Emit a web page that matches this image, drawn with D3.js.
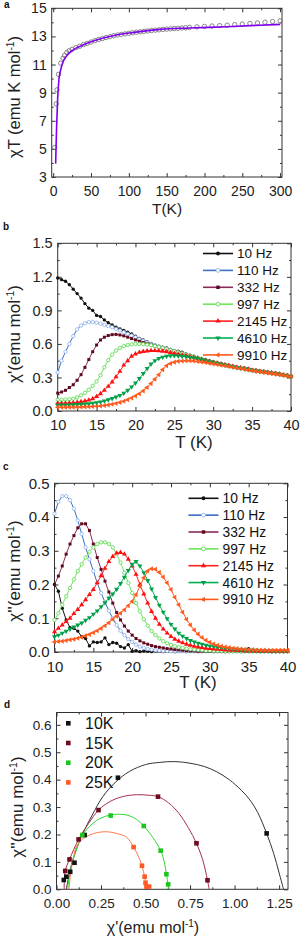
<!DOCTYPE html>
<html>
<head>
<meta charset="utf-8">
<script src="https://cdnjs.cloudflare.com/ajax/libs/d3/7.8.5/d3.min.js"></script>
<style>
  body { margin: 0; background: #fff; }
  svg { display: block; font-family: "Liberation Sans", Arial, sans-serif; }
</style>
</head>
<body>
<div id="chart"></div>
<script>
// ---------- panel a : chi T vs T ----------
var tempsA = [2,4,5,7,10,13,15,18,21,25,30,35,40,45,50,55,60,65,70,75,80,85,90,95,100,105,110,115,120,125,130,135,140,145,150,155,160,165,170,175,180,190,200,210,220,230,240,250,260,270,280,290,300];
var chiTA = [5.1,8.2,9.2,10.3,11.1,11.45,11.65,11.85,11.98,12.08,12.2,12.3,12.42,12.5,12.6,12.7,12.78,12.85,12.92,12.98,13.05,13.1,13.14,13.18,13.22,13.26,13.3,13.33,13.36,13.39,13.42,13.45,13.47,13.5,13.52,13.54,13.56,13.58,13.6,13.62,13.64,13.68,13.71,13.74,13.77,13.8,13.84,13.88,13.92,13.96,14.01,14.06,14.11];
var fitTempsA = [3.2,4.5,5.8,7.5,9.8,13,17.5,26,40,57,79,107,141,180,230,300];
var fitChiTA = [3.95,6.6,8.5,9.9,10.6,11.2,11.6,12.03,12.4,12.74,13.05,13.29,13.5,13.6,13.69,13.86];

// ---------- panels b, c : ac susceptibility ----------
var tempsAC = [10,10.5,11,11.5,12,12.5,13,13.5,14,14.5,15,15.5,16,16.5,17,17.5,18,18.5,19,19.5,20,20.5,21,21.5,22,22.5,23,23.5,24,24.5,25,25.5,26,26.5,27,27.5,28,28.5,29,29.5,30,30.5,31,31.5,32,32.5,33,33.5,34,34.5,35,35.5,36,36.5,37,37.5,38,38.5,39,39.5,40];
var freqLabels = ["10 Hz", "110 Hz", "332 Hz", "997 Hz", "2145 Hz", "4610 Hz", "9910 Hz"];

// chi' (in-phase)
var chiRe10 = [1.19,1.175,1.16,1.13,1.09,1.05,1.01,0.96,0.92,0.90,
  0.855,0.845,0.815,0.79,0.77,0.75,0.735,0.72,0.705,0.69,
  0.67,0.65,0.635,0.62,0.605,0.59,0.58,0.57,0.565,0.55,
  0.54,0.535,0.525,0.51,0.50,0.49,0.48,0.47,0.46,0.45,
  0.44,0.43,0.425,0.415,0.41,0.40,0.395,0.39,0.385,0.38,
  0.37,0.365,0.36,0.355,0.35,0.345,0.34,0.335,0.325,0.32,
  0.31];
var chiRe110 = [0.345,0.45,0.53,0.60,0.67,0.73,0.765,0.785,0.795,0.797,
  0.79,0.78,0.77,0.76,0.75,0.735,0.72,0.705,0.69,0.675,
  0.66,0.643,0.628,0.614,0.60,0.588,0.577,0.566,0.555,0.545,
  0.535,0.525,0.515,0.505,0.495,0.485,0.475,0.465,0.455,0.445,
  0.437,0.429,0.421,0.413,0.405,0.398,0.391,0.385,0.379,0.372,
  0.366,0.36,0.355,0.35,0.345,0.34,0.335,0.33,0.323,0.317,
  0.31];
var chiRe332 = [0.16,0.17,0.185,0.21,0.235,0.275,0.325,0.39,0.46,0.53,
  0.59,0.635,0.66,0.675,0.683,0.685,0.68,0.672,0.66,0.648,
  0.636,0.624,0.612,0.601,0.591,0.581,0.571,0.561,0.551,0.542,
  0.533,0.524,0.515,0.505,0.495,0.485,0.475,0.465,0.455,0.445,
  0.437,0.429,0.421,0.413,0.405,0.398,0.391,0.385,0.379,0.372,
  0.366,0.36,0.355,0.35,0.345,0.34,0.335,0.33,0.323,0.317,
  0.31];
var chiRe997 = [0.10,0.10,0.102,0.105,0.11,0.122,0.14,0.162,0.19,0.225,
  0.265,0.32,0.39,0.455,0.505,0.54,0.565,0.58,0.59,0.597,
  0.60,0.60,0.598,0.594,0.588,0.58,0.572,0.564,0.555,0.545,
  0.535,0.525,0.515,0.505,0.495,0.485,0.475,0.465,0.455,0.445,
  0.437,0.429,0.421,0.413,0.405,0.398,0.391,0.385,0.379,0.372,
  0.366,0.36,0.355,0.35,0.345,0.34,0.335,0.33,0.323,0.317,
  0.31];
var chiRe2145 = [0.07,0.07,0.07,0.072,0.074,0.078,0.083,0.09,0.098,0.11,
  0.13,0.155,0.185,0.22,0.26,0.305,0.355,0.41,0.45,0.49,
  0.51,0.525,0.532,0.537,0.54,0.54,0.538,0.535,0.53,0.522,
  0.515,0.508,0.50,0.495,0.487,0.478,0.47,0.46,0.452,0.443,
  0.435,0.428,0.42,0.413,0.405,0.398,0.391,0.385,0.379,0.372,
  0.366,0.36,0.355,0.35,0.345,0.34,0.335,0.33,0.323,0.317,
  0.31];
var chiRe4610 = [0.052,0.053,0.054,0.055,0.056,0.058,0.06,0.062,0.065,0.07,
  0.075,0.082,0.09,0.10,0.112,0.125,0.14,0.16,0.185,0.215,
  0.25,0.29,0.335,0.38,0.42,0.45,0.47,0.482,0.49,0.494,
  0.495,0.493,0.49,0.485,0.48,0.474,0.467,0.458,0.45,0.441,
  0.433,0.426,0.418,0.411,0.403,0.396,0.389,0.383,0.377,0.37,
  0.364,0.358,0.353,0.348,0.343,0.338,0.333,0.328,0.321,0.315,
  0.308];
var chiRe9910 = [0.033,0.033,0.033,0.034,0.034,0.035,0.036,0.037,0.038,0.04,
  0.042,0.045,0.049,0.054,0.06,0.068,0.077,0.087,0.10,0.117,
  0.135,0.155,0.18,0.21,0.245,0.285,0.325,0.37,0.405,0.425,
  0.437,0.444,0.448,0.45,0.45,0.447,0.443,0.438,0.433,0.427,
  0.42,0.415,0.41,0.404,0.398,0.392,0.386,0.38,0.374,0.368,
  0.362,0.356,0.351,0.346,0.341,0.336,0.331,0.326,0.319,0.313,
  0.307];

// chi'' (out-of-phase)
var chiIm10 = [0.20,0.18,0.13,0.095,0.072,0.07,0.062,0.045,0.04,0.018,
  0.03,0.028,0.03,0.042,0.022,0.028,0.026,0.016,0.012,0.022,
  0.002,0.004,0.001,0.003,0.002,0.001,0.003,0.002,0.001,0.002,
  0.003,0.001,0.002,0.002,0.001,0.003,0.002,0.001,0.002,0.003,
  0.002,0.001,0.002,0.002,0.001,0.002,0.003,0.002,0.001,0.004,
  0.01,0.003,0.002,0.001,0.002,0.002,0.001,0.002,0.002,0.001,
  0.002];
var chiIm110 = [0.41,0.445,0.462,0.462,0.45,0.425,0.39,0.35,0.31,0.275,
  0.24,0.205,0.175,0.148,0.122,0.10,0.08,0.063,0.05,0.038,
  0.03,0.022,0.016,0.012,0.009,0.007,0.005,0.004,0.003,0.003,
  0.002,0.002,0.002,0.002,0.002,0.002,0.002,0.002,0.002,0.002,
  0.002,0.002,0.002,0.002,0.002,0.002,0.002,0.002,0.002,0.002,
  0.002,0.002,0.002,0.002,0.002,0.002,0.002,0.002,0.002,0.002,
  0.002];
var chiIm332 = [0.20,0.225,0.255,0.29,0.32,0.345,0.368,0.38,0.38,0.36,
  0.32,0.28,0.245,0.21,0.178,0.145,0.117,0.095,0.077,0.062,
  0.05,0.04,0.033,0.027,0.023,0.019,0.016,0.014,0.012,0.01,
  0.009,0.007,0.006,0.005,0.004,0.003,0.003,0.002,0.002,0.002,
  0.002,0.002,0.002,0.002,0.002,0.002,0.002,0.002,0.002,0.002,
  0.002,0.002,0.002,0.002,0.002,0.002,0.002,0.002,0.002,0.002,
  0.002];
var chiIm997 = [0.095,0.115,0.14,0.165,0.19,0.215,0.24,0.26,0.28,0.297,
  0.31,0.32,0.325,0.325,0.32,0.31,0.29,0.265,0.235,0.205,
  0.175,0.145,0.12,0.097,0.078,0.062,0.05,0.04,0.032,0.026,
  0.021,0.017,0.014,0.012,0.01,0.008,0.007,0.006,0.005,0.004,
  0.004,0.003,0.003,0.003,0.002,0.002,0.002,0.002,0.002,0.002,
  0.002,0.002,0.002,0.002,0.002,0.002,0.002,0.002,0.002,0.002,
  0.002];
var chiIm2145 = [0.06,0.07,0.08,0.09,0.10,0.114,0.126,0.14,0.155,0.17,
  0.185,0.205,0.226,0.248,0.268,0.283,0.293,0.295,0.29,0.275,
  0.255,0.23,0.2,0.172,0.145,0.12,0.10,0.082,0.068,0.056,
  0.046,0.038,0.032,0.027,0.023,0.02,0.017,0.015,0.013,0.011,
  0.01,0.009,0.008,0.007,0.006,0.005,0.005,0.004,0.004,0.003,
  0.003,0.003,0.002,0.002,0.002,0.002,0.002,0.002,0.002,0.002,
  0.002];
var chiIm4610 = [0.045,0.05,0.056,0.062,0.068,0.074,0.08,0.086,0.094,0.102,
  0.112,0.122,0.134,0.146,0.16,0.172,0.186,0.203,0.222,0.242,
  0.26,0.268,0.255,0.235,0.212,0.187,0.162,0.139,0.118,0.099,
  0.082,0.068,0.056,0.047,0.04,0.034,0.03,0.026,0.023,0.02,
  0.018,0.016,0.014,0.012,0.011,0.01,0.009,0.008,0.007,0.006,
  0.006,0.005,0.005,0.004,0.004,0.004,0.003,0.003,0.003,0.003,
  0.003];
var chiIm9910 = [0.03,0.031,0.032,0.034,0.036,0.038,0.041,0.044,0.048,0.052,
  0.057,0.063,0.07,0.078,0.087,0.097,0.106,0.115,0.125,0.137,
  0.15,0.17,0.195,0.22,0.24,0.247,0.245,0.236,0.222,0.205,
  0.185,0.162,0.14,0.118,0.097,0.08,0.065,0.053,0.043,0.035,
  0.029,0.024,0.02,0.017,0.015,0.013,0.011,0.01,0.009,0.008,
  0.007,0.007,0.006,0.006,0.006,0.005,0.005,0.005,0.005,0.005,
  0.005];

// ---------- panel d : Cole-Cole ----------
var ccLabels = ["10K", "15K", "20K", "25K"];
var cc10x = [0.041,0.055,0.077,0.101,0.158,0.345,1.18];
var cc10y = [0.034,0.046,0.064,0.097,0.198,0.407,0.204];
var cc15x = [0.049,0.073,0.124,0.236,0.57,0.786,0.848];
var cc15y = [0.067,0.109,0.182,0.289,0.338,0.168,0.033];
var cc20x = [0.145,0.304,0.49,0.585,0.617,0.627];
var cc20y = [0.198,0.269,0.231,0.141,0.055,0.018];
var cc25x = [0.433,0.48,0.495,0.5,0.505,0.52];
var cc25y = [0.154,0.086,0.046,0.024,0.01,0.01];
// fitted arcs
var arc10x = [0.055,0.065,0.08,0.1,0.148,0.2,0.26,0.33,0.41,0.5,0.58,0.664,0.75,0.83,0.899,0.97,1.04,1.086,1.13,1.18,1.22,1.25,1.275];
var arc10y = [0,0.035,0.08,0.125,0.204,0.27,0.338,0.39,0.43,0.455,0.463,0.466,0.46,0.448,0.429,0.4,0.36,0.326,0.28,0.204,0.13,0.06,0];
var arc15x = [0.043,0.049,0.073,0.124,0.18,0.236,0.3,0.37,0.45,0.52,0.57,0.63,0.69,0.74,0.786,0.82,0.848,0.857];
var arc15y = [0,0.067,0.109,0.182,0.24,0.289,0.32,0.338,0.345,0.343,0.338,0.315,0.275,0.225,0.168,0.11,0.033,0];
var arc20x = [0.063,0.075,0.095,0.12,0.145,0.2,0.25,0.304,0.35,0.4,0.45,0.49,0.54,0.585,0.605,0.617,0.627,0.632];
var arc20y = [0,0.06,0.11,0.16,0.198,0.238,0.26,0.271,0.274,0.27,0.255,0.231,0.19,0.141,0.1,0.055,0.018,0];
var arc25x = [0.07,0.08,0.095,0.111,0.14,0.186,0.23,0.28,0.33,0.393,0.433,0.46,0.48,0.495,0.503,0.507];
var arc25y = [0,0.06,0.115,0.155,0.18,0.198,0.207,0.21,0.205,0.19,0.154,0.12,0.086,0.045,0.015,0];

// ---------- styles per frequency ----------
var freqStyles = [
  { line: "#111111", mark: "#111111", fill: "#111111", sym: d3.symbolCircle, rot: 0 },
  { line: "#3a6fc4", mark: "#8fb0e8", fill: "#ffffff", sym: d3.symbolCircle, rot: 0 },
  { line: "#8a2a5a", mark: "#5e0a1c", fill: "#5e0a1c", sym: d3.symbolSquare, rot: 0 },
  { line: "#6ee65a", mark: "#55d84a", fill: "#ffffff", sym: d3.symbolCircle, rot: 0 },
  { line: "#ff2020", mark: "#ff1010", fill: "#ff1010", sym: d3.symbolTriangle, rot: 0 },
  { line: "#00b050", mark: "#00a048", fill: "#00a048", sym: d3.symbolTriangle, rot: 180 },
  { line: "#ff5a1e", mark: "#ff5a1e", fill: "#ff5a1e", sym: d3.symbolTriangle, rot: -90 }
];
var ccColors = [
  { mark: "#111111", line: "#333333" },
  { mark: "#6e0a1e", line: "#a3324f" },
  { mark: "#1ec41e", line: "#2fd82f" },
  { mark: "#ff5a24", line: "#ff7a52" }
];

var svg = d3.select("#chart").append("svg")
    .attr("width", 302)
    .attr("height", 940);

svg.append("rect").attr("width", 302).attr("height", 940).attr("fill", "#fff");

// draws frame with inward ticks on all four sides
function drawFrame(x, y, xMajor, xMinor, yMajor, yMinor, fmtX, fmtY, fs) {
    var xl = x.range()[0], xr = x.range()[1];
    var yb = y.range()[0], yt = y.range()[1];
    var g = svg.append("g");

    function style(sel) {
        sel.select(".domain").remove();
        sel.selectAll("line").attr("stroke", "#333");
        sel.selectAll("text").attr("fill", "#222").attr("font-size", fs)
            .attr("font-family", "'Liberation Sans', Arial, sans-serif");
    }

    g.append("g").attr("transform", "translate(0," + yb + ")")
        .call(d3.axisBottom(x).tickValues(xMajor).tickSize(-4).tickPadding(9).tickFormat(fmtX)).call(style);
    g.append("g").attr("transform", "translate(0," + yb + ")")
        .call(d3.axisBottom(x).tickValues(xMinor).tickSize(-2).tickFormat("")).call(style);
    g.append("g").attr("transform", "translate(0," + yt + ")")
        .call(d3.axisTop(x).tickValues(xMajor).tickSize(-4).tickFormat("")).call(style);
    g.append("g").attr("transform", "translate(0," + yt + ")")
        .call(d3.axisTop(x).tickValues(xMinor).tickSize(-2).tickFormat("")).call(style);

    g.append("g").attr("transform", "translate(" + xl + ",0)")
        .call(d3.axisLeft(y).tickValues(yMajor).tickSize(-4).tickPadding(5).tickFormat(fmtY)).call(style);
    g.append("g").attr("transform", "translate(" + xl + ",0)")
        .call(d3.axisLeft(y).tickValues(yMinor).tickSize(-2).tickFormat("")).call(style);
    g.append("g").attr("transform", "translate(" + xr + ",0)")
        .call(d3.axisRight(y).tickValues(yMajor).tickSize(-4).tickFormat("")).call(style);
    g.append("g").attr("transform", "translate(" + xr + ",0)")
        .call(d3.axisRight(y).tickValues(yMinor).tickSize(-2).tickFormat("")).call(style);

    g.append("rect")
        .attr("x", xl).attr("y", yt)
        .attr("width", xr - xl).attr("height", yb - yt)
        .attr("fill", "none").attr("stroke", "#333").attr("stroke-width", 1);
}

// y title with a superscript -1
function yTitle(x, cy, main, fs) {
    var t = svg.append("text")
        .attr("transform", "translate(" + x + "," + cy + ") rotate(-90)")
        .attr("text-anchor", "middle")
        .attr("font-size", fs)
        .attr("fill", "#222");
    t.append("tspan").text(main);
    t.append("tspan").attr("dy", -fs * 0.38).attr("font-size", fs * 0.62).text("-1");
    t.append("tspan").attr("dy", fs * 0.38).text(")");
    return t;
}

function panelLabel(x, y, s) {
    svg.append("text").attr("x", x).attr("y", y)
        .attr("font-size", 10).attr("font-weight", "bold").attr("fill", "#111")
        .text(s);
}

function symbolPath(st, size) {
    return d3.symbol().type(st.sym).size(size)();
}

//////////////////
//   Panel a    //
//////////////////
var xA = d3.scaleLinear().domain([-2, 302.5]).range([51.7, 282]);
var yA = d3.scaleLinear().domain([3, 15]).range([177, 8.3]);

drawFrame(xA, yA, d3.range(0, 301, 50), d3.range(25, 300, 50),
    d3.range(3, 16, 2), d3.range(4, 15, 2), d3.format("d"), d3.format("d"), 14);

var fitPts = fitTempsA.map(function (t, i) { return [t, fitChiTA[i]]; });

svg.append("g").selectAll("circle")
    .data(tempsA)
    .enter()
    .append("circle")
    .attr("cx", function (d) { return xA(d); })
    .attr("cy", function (d, i) { return yA(chiTA[i]); })
    .attr("r", 2.2)
    .attr("fill", "none")
    .attr("stroke", "#7a7a7a")
    .attr("stroke-width", 0.9);

svg.append("path")
    .datum(fitPts)
    .attr("fill", "none")
    .attr("stroke", "#8000f0")
    .attr("stroke-width", 1.6)
    .attr("d", d3.line()
        .x(function (d) { return xA(d[0]); })
        .y(function (d) { return yA(d[1]); })
        .curve(d3.curveMonotoneX));

panelLabel(4, 8, "a");
svg.append("text").attr("x", 167).attr("y", 214).attr("text-anchor", "middle")
    .attr("font-size", 15.5).attr("fill", "#222").text("T(K)");
yTitle(20, 97, "\u03c7T (emu K mol", 16.5);

//////////////////
// Panels b, c  //
//////////////////
function acPanel(x, y, seriesList, legX, legY, legStep, legFs) {
    var line = d3.line()
        .x(function (d, i) { return x(tempsAC[i]); })
        .y(function (d) { return y(d); });

    seriesList.forEach(function (vals, k) {
        var st = freqStyles[k];
        svg.append("path")
            .datum(vals)
            .attr("fill", "none")
            .attr("stroke", st.line)
            .attr("stroke-width", 1)
            .attr("d", line);
        svg.append("g").selectAll("path")
            .data(vals)
            .enter()
            .append("path")
            .attr("d", symbolPath(st, st.sym === d3.symbolTriangle ? 11 : 9))
            .attr("transform", function (d, i) {
                return "translate(" + x(tempsAC[i]) + "," + y(d) + ") rotate(" + st.rot + ")";
            })
            .attr("fill", st.fill)
            .attr("stroke", st.mark)
            .attr("stroke-width", st.fill === "#ffffff" ? 0.8 : 0);
    });

    // legend
    freqLabels.forEach(function (lab, k) {
        var st = freqStyles[k];
        var yy = legY + k * legStep;
        svg.append("line")
            .attr("x1", legX).attr("x2", legX + 30)
            .attr("y1", yy).attr("y2", yy)
            .attr("stroke", st.line).attr("stroke-width", 1.6);
        svg.append("path")
            .attr("d", symbolPath(st, 12))
            .attr("transform", "translate(" + (legX + 15) + "," + yy + ") rotate(" + st.rot + ")")
            .attr("fill", st.fill)
            .attr("stroke", st.mark)
            .attr("stroke-width", st.fill === "#ffffff" ? 0.8 : 0);
        svg.append("text")
            .attr("x", legX + 34).attr("y", yy)
            .attr("dy", "0.36em")
            .attr("font-size", legFs)
            .attr("fill", "#111")
            .text(lab);
    });
}

var xB = d3.scaleLinear().domain([10, 40]).range([57.7, 291]);
var yB = d3.scaleLinear().domain([0, 1.5]).range([411, 243.3]);
drawFrame(xB, yB, d3.range(10, 41, 5), d3.range(12.5, 40, 5),
    [0, 0.3, 0.6, 0.9, 1.2, 1.5], [0.15, 0.45, 0.75, 1.05, 1.35],
    d3.format("d"), d3.format(".1f"), 14.5);
acPanel(xB, yB, [chiRe10, chiRe110, chiRe332, chiRe997, chiRe2145, chiRe4610, chiRe9910],
    203, 253.5, 16.9, 13.5);
panelLabel(3, 230, "b");
svg.append("text").attr("x", 194).attr("y", 448).attr("text-anchor", "middle")
    .attr("font-size", 17).attr("fill", "#222").text("T (K)");
yTitle(20, 334, "\u03c7'(emu mol", 17);

var xC = d3.scaleLinear().domain([10, 40]).range([54.5, 287.5]);
var yC = d3.scaleLinear().domain([0, 0.5]).range([652, 483.3]);
drawFrame(xC, yC, d3.range(10, 41, 5), d3.range(12.5, 40, 5),
    [0, 0.1, 0.2, 0.3, 0.4, 0.5], [0.05, 0.15, 0.25, 0.35, 0.45],
    d3.format("d"), d3.format(".1f"), 15);
acPanel(xC, yC, [chiIm10, chiIm110, chiIm332, chiIm997, chiIm2145, chiIm4610, chiIm9910],
    188.5, 498.3, 16.85, 13.8);
panelLabel(3, 470, "c");
svg.append("text").attr("x", 198).attr("y", 688).attr("text-anchor", "middle")
    .attr("font-size", 17).attr("fill", "#222").text("T (K)");
yTitle(20, 571, "\u03c7''(emu mol", 17);

//////////////////
//   Panel d    //
//////////////////
var xD = d3.scaleLinear().domain([0, 1.3]).range([56.5, 288]);
var yD = d3.scaleLinear().domain([0, 0.645]).range([889.3, 712.5]);
drawFrame(xD, yD, [0, 0.25, 0.5, 0.75, 1.0, 1.25], [0.125, 0.375, 0.625, 0.875, 1.125],
    [0, 0.1, 0.2, 0.3, 0.4, 0.5, 0.6], [0.05, 0.15, 0.25, 0.35, 0.45, 0.55],
    d3.format(".2f"), d3.format(".1f"), 13.5);

var arcsX = [arc10x, arc15x, arc20x, arc25x];
var arcsY = [arc10y, arc15y, arc20y, arc25y];
var ptsX = [cc10x, cc15x, cc20x, cc25x];
var ptsY = [cc10y, cc15y, cc20y, cc25y];

var arcLine = d3.line()
    .x(function (d) { return xD(d[0]); })
    .y(function (d) { return yD(d[1]); })
    .curve(d3.curveCatmullRom.alpha(0.5));

arcsX.forEach(function (ax, k) {
    var pts = ax.map(function (v, i) { return [v, arcsY[k][i]]; });
    svg.append("path")
        .datum(pts)
        .attr("fill", "none")
        .attr("stroke", ccColors[k].line)
        .attr("stroke-width", 1)
        .attr("d", arcLine);
});

ptsX.forEach(function (px, k) {
    svg.append("g").selectAll("rect")
        .data(px)
        .enter()
        .append("rect")
        .attr("x", function (d) { return xD(d) - 2.3; })
        .attr("y", function (d, i) { return yD(ptsY[k][i]) - 2.3; })
        .attr("width", 4.6)
        .attr("height", 4.6)
        .attr("fill", ccColors[k].mark);
});

ccLabels.forEach(function (lab, k) {
    var yy = 723.3 + k * 19.7;
    svg.append("rect")
        .attr("x", 66).attr("y", yy - 2.3)
        .attr("width", 4.6).attr("height", 4.6)
        .attr("fill", ccColors[k].mark);
    svg.append("text")
        .attr("x", 85).attr("y", yy).attr("dy", "0.36em")
        .attr("font-size", 16).attr("fill", "#111")
        .text(lab);
});

panelLabel(4, 708, "d");
var tD = svg.append("text").attr("x", 153).attr("y", 933).attr("text-anchor", "middle")
    .attr("font-size", 16).attr("fill", "#222");
tD.append("tspan").text("\u03c7'(emu mol");
tD.append("tspan").attr("dy", -6).attr("font-size", 10).text("-1");
tD.append("tspan").attr("dy", 6).text(")");
yTitle(23, 807, "\u03c7''(emu mol", 17);
</script>
</body>
</html>
